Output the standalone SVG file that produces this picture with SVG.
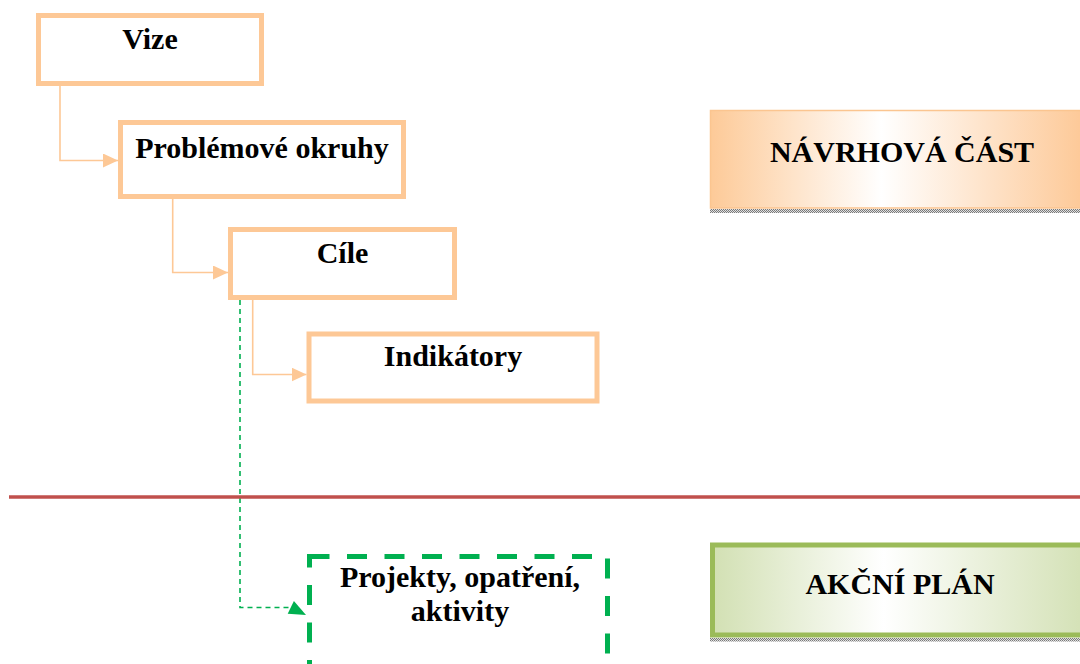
<svg xmlns="http://www.w3.org/2000/svg" width="1080" height="664" viewBox="0 0 1080 664">
<defs>
<style>
.box{fill:#fff;stroke:#FDC896;stroke-width:5}
.lbl{font-family:"Liberation Serif","Times New Roman",serif;font-weight:bold;font-size:30px;fill:#000;text-anchor:middle}
.conn{fill:none;stroke:#FDC896;stroke-width:1.6}
.gconn{fill:none;stroke:#00B050;stroke-width:1.6;stroke-dasharray:5 4}
</style>
<marker id="arrO" viewBox="0 0 15 14" refX="15" refY="7" markerWidth="15" markerHeight="14" markerUnits="userSpaceOnUse" orient="auto">
<path d="M0,0 L15,7 L0,14 Z" fill="#FDC896"/>
</marker>
<linearGradient id="gOr" x1="0" y1="0" x2="1" y2="0">
<stop offset="0" stop-color="#FDCA98"/>
<stop offset="0.45" stop-color="#FFFFFF"/>
<stop offset="1" stop-color="#FDC794"/>
</linearGradient>
<linearGradient id="gGr" x1="0" y1="0" x2="1" y2="0">
<stop offset="0" stop-color="#D2E0B3"/>
<stop offset="0.45" stop-color="#FFFFFF"/>
<stop offset="1" stop-color="#D2E0B3"/>
</linearGradient>
<pattern id="shd" width="2" height="2" patternUnits="userSpaceOnUse">
<rect width="2" height="2" fill="#e0e0e0"/>
<rect width="1" height="1" fill="#7a7a7a"/>
<rect x="1" y="1" width="1" height="1" fill="#7a7a7a"/>
</pattern>
</defs>
<rect width="1080" height="664" fill="#fff"/>

<g id="connectors">
<path class="conn" d="M60,86 V160.5 H118" marker-end="url(#arrO)"/>
<path class="conn" d="M172.7,199 V272.5 H228" marker-end="url(#arrO)"/>
<path class="conn" d="M252.7,300 V374.5 H306.5" marker-end="url(#arrO)"/>
<path class="gconn" d="M240,300 V607.5 H291"/>
<polygon points="306,615 287.7,613.7 293.9,601.1" fill="#00B050"/>
</g>

<line id="divider" x1="9" y1="497" x2="1080" y2="497" stroke="#C0504D" stroke-width="3.5"/>

<g id="vize">
<rect class="box" x="38.5" y="15.5" width="223" height="68"/>
<text class="lbl" x="150" y="49">Vize</text>
</g>
<g id="problemove-okruhy">
<rect class="box" x="120.5" y="122.5" width="283" height="74"/>
<text class="lbl" x="262" y="158">Problémové okruhy</text>
</g>
<g id="cile">
<rect class="box" x="230.5" y="229.5" width="224" height="68"/>
<text class="lbl" x="342.5" y="263">Cíle</text>
</g>
<g id="indikatory">
<rect class="box" x="309" y="334" width="288" height="67"/>
<text class="lbl" x="453" y="366">Indikátory</text>
</g>
<g id="projekty">
<rect x="309.5" y="556.5" width="298" height="120" fill="#fff" stroke="#00B050" stroke-width="5" stroke-dasharray="20 17.5"/>
<text class="lbl" x="460" y="587">Projekty, opatření,</text>
<text class="lbl" x="460" y="621">aktivity</text>
</g>

<g id="navrhova-cast">
<rect x="710" y="209" width="380" height="4" fill="url(#shd)"/>
<rect x="710.5" y="110.5" width="380" height="97.5" fill="url(#gOr)" stroke="#FBC590" stroke-width="1.5"/>
<text class="lbl" x="902" y="162">NÁVRHOVÁ ČÁST</text>
</g>
<g id="akcni-plan">
<rect x="710" y="638" width="380" height="3.5" fill="url(#shd)"/>
<rect x="712.5" y="545" width="380" height="90" fill="url(#gGr)" stroke="#9BBB59" stroke-width="5"/>
<text class="lbl" x="900" y="594">AKČNÍ PLÁN</text>
</g>
</svg>
